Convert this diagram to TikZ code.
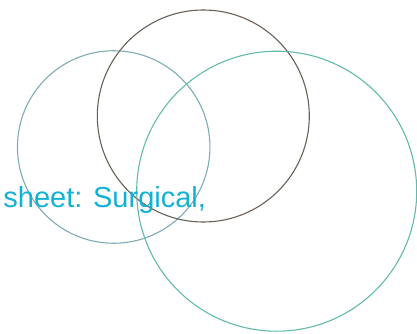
\documentclass[tikz,border=0pt]{standalone}
\usepackage{fontspec}
\setmainfont{Liberation Sans}
\usepackage{xcolor}
\usetikzlibrary{positioning}

\definecolor{ringleft}{RGB}{125,172,178}
\definecolor{ringtop}{RGB}{105,96,86}
\definecolor{ringright}{RGB}{98,186,170}
\definecolor{sheetcyan}{RGB}{18,178,214}

\begin{document}
\begin{tikzpicture}[
    x=1pt, y=-1pt,
    ring/.style={
      circle, draw=#1, line width=1.1pt, inner sep=0pt
    },
    sheetlbl/.style={
      text=sheetcyan, font=\fontsize{29}{34}\selectfont, inner sep=0pt
    },
  ]

  \useasboundingbox (0,0) rectangle (417,334);

  \node[ring=ringleft, minimum size=192.5pt] (cleft) at (113.7,147) {};
  \node[ring=ringtop, minimum size=212pt] (ctop) at (203.3,116) {};
  \node[ring=ringright, minimum size=280pt] (cright) at (276.7,191.2) {};

  \node[sheetlbl, anchor=base west] (sheet) at (3.2,207.5) {sheet: Surgical,};
\end{tikzpicture}
\end{document}
